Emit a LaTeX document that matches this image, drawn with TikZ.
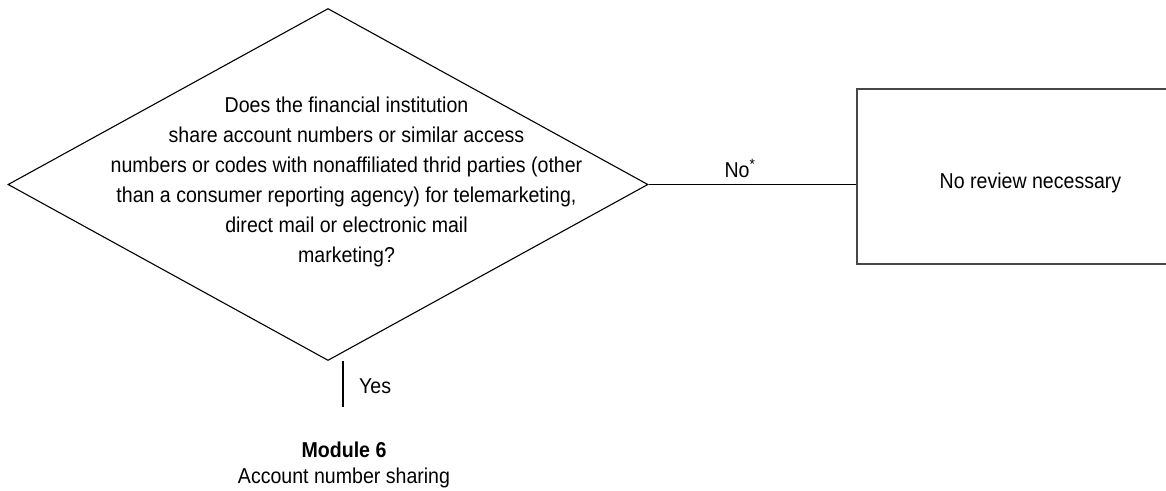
\documentclass[tikz,border=0pt]{standalone}
\usepackage{fontspec}
\setmainfont{Liberation Sans}[FakeStretch=0.91]
\usetikzlibrary{shapes.geometric}
\begin{document}
\begin{tikzpicture}[x=1pt,y=-1pt,
  txt/.style={font=\fontsize{21.5}{30}\selectfont, align=center, inner sep=0pt},
  dline/.style={draw=black, line width=1.1pt},
  boxline/.style={draw=black!72, line width=2pt}]
\useasboundingbox (0,0) rectangle (1166,490);
\node[diamond, dline, minimum width=640pt, minimum height=352pt, inner sep=0pt] (q) at (328,184.5) {};
\node[txt] (qt) at (346.5,182) {Does the financial institution\\
share account numbers or similar access\\
numbers or codes with nonaffiliated thrid parties (other\\
than a consumer reporting agency) for telemarketing,\\
direct mail or electronic mail\\
marketing?};
\node[rectangle, boxline, minimum width=347pt, minimum height=175pt, inner sep=0pt] (b) at (1030.5,176.5) {};
\node[txt, anchor=base] (bt) at (1030.5,188) {No review necessary};
\draw[dline] (q.east) -- (q.east -| b.west);
\node[txt, anchor=base] (no) at (740,177) {No\textsuperscript{*}};
\coordinate (y1) at (343,361);
\coordinate (y2) at (343,407);
\draw[dline] (y1) -- (y2);
\node[txt, anchor=base west] (yes) at (359,393) {Yes};
\node[txt, anchor=base] (m1) at (344,457) {\textbf{Module 6}};
\node[txt, anchor=base] (m2) at (344,483) {Account number sharing};
\end{tikzpicture}
\end{document}
